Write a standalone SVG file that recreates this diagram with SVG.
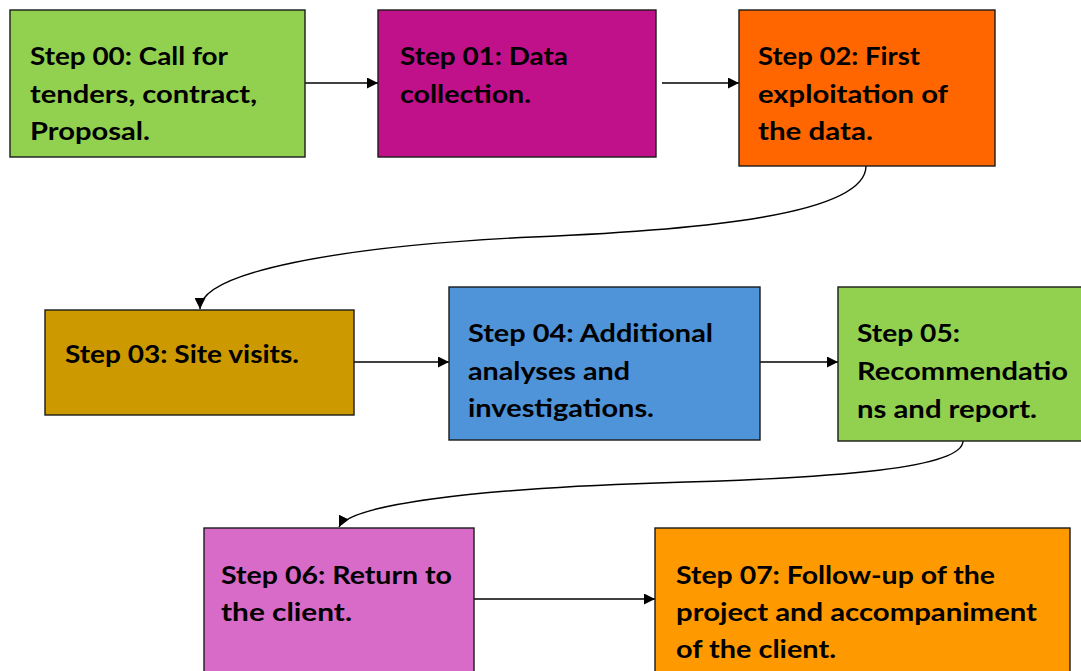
<svg xmlns="http://www.w3.org/2000/svg" width="1081" height="671" viewBox="0 0 1081 671">
<style>
.box{stroke:#1a1a1a;stroke-width:1.4}
.t{font-family:Lato,"Liberation Sans",sans-serif;font-weight:bold;font-size:25px;fill:#000}
.c{fill:none;stroke:#000;stroke-width:1.4}
</style>
<defs>
<marker id="ah" viewBox="0 0 10 10" refX="10" refY="5" markerWidth="11" markerHeight="11" markerUnits="userSpaceOnUse" orient="auto">
<path d="M0,0 L10,5 L0,10 z" fill="#000"/>
</marker>
</defs>
<rect width="1081" height="671" fill="#fff"/>
<g id="connectors">
<path class="c" d="M305,83 L378,83" marker-end="url(#ah)"/>
<path class="c" d="M662,83 L739,83" marker-end="url(#ah)"/>
<path class="c" d="M866,166 C866,215 700,230 533,237 C340,246 200,272 200,309" marker-end="url(#ah)"/>
<path class="c" d="M354,362 L449,362" marker-end="url(#ah)"/>
<path class="c" d="M760,362 L838,362" marker-end="url(#ah)"/>
<path class="c" d="M963,441 C963,468 840,478 657,483 C470,489 350,505 339,527" marker-end="url(#ah)"/>
<path class="c" d="M474,599 L655,599" marker-end="url(#ah)"/>
</g>
<g id="step00">
<rect class="box" x="10" y="10" width="295" height="147" fill="#92D050"/>
<text class="t"><tspan x="30" y="65" textLength="198" lengthAdjust="spacingAndGlyphs">Step 00: Call for</tspan><tspan x="30" y="103" textLength="227" lengthAdjust="spacingAndGlyphs">tenders, contract,</tspan><tspan x="30" y="140" textLength="120" lengthAdjust="spacingAndGlyphs">Proposal.</tspan></text>
</g>
<g id="step01">
<rect class="box" x="378" y="10" width="278" height="147" fill="#C0118B"/>
<text class="t"><tspan x="400" y="65" textLength="168" lengthAdjust="spacingAndGlyphs">Step 01: Data</tspan><tspan x="400" y="103" textLength="131" lengthAdjust="spacingAndGlyphs">collection.</tspan></text>
</g>
<g id="step02">
<rect class="box" x="739" y="10" width="256" height="156" fill="#FF6600"/>
<text class="t"><tspan x="758" y="65" textLength="162" lengthAdjust="spacingAndGlyphs">Step 02: First</tspan><tspan x="758" y="103" textLength="190" lengthAdjust="spacingAndGlyphs">exploitation of</tspan><tspan x="758" y="140" textLength="115" lengthAdjust="spacingAndGlyphs">the data.</tspan></text>
</g>
<g id="step03">
<rect class="box" x="45" y="310" width="309" height="105" fill="#CC9900"/>
<text class="t"><tspan x="65" y="363" textLength="234" lengthAdjust="spacingAndGlyphs">Step 03: Site visits.</tspan></text>
</g>
<g id="step04">
<rect class="box" x="449" y="287" width="311" height="153" fill="#4F93D8"/>
<text class="t"><tspan x="468" y="342" textLength="245" lengthAdjust="spacingAndGlyphs">Step 04: Additional</tspan><tspan x="468" y="380" textLength="162" lengthAdjust="spacingAndGlyphs">analyses and</tspan><tspan x="468" y="417" textLength="186" lengthAdjust="spacingAndGlyphs">investigations.</tspan></text>
</g>
<g id="step05">
<rect class="box" x="838" y="287" width="250" height="154" fill="#92D050"/>
<text class="t"><tspan x="857" y="342" textLength="103" lengthAdjust="spacingAndGlyphs">Step 05:</tspan><tspan x="857" y="380" textLength="211" lengthAdjust="spacingAndGlyphs">Recommendatio</tspan><tspan x="857" y="418" textLength="180" lengthAdjust="spacingAndGlyphs">ns and report.</tspan></text>
</g>
<g id="step06">
<rect class="box" x="204" y="528" width="270" height="150" fill="#D86BC8"/>
<text class="t"><tspan x="221" y="584" textLength="231" lengthAdjust="spacingAndGlyphs">Step 06: Return to</tspan><tspan x="221" y="621" textLength="131" lengthAdjust="spacingAndGlyphs">the client.</tspan></text>
</g>
<g id="step07">
<rect class="box" x="655" y="528" width="415" height="150" fill="#FF9900"/>
<text class="t"><tspan x="676" y="584" textLength="319" lengthAdjust="spacingAndGlyphs">Step 07: Follow-up of the</tspan><tspan x="676" y="621" textLength="361" lengthAdjust="spacingAndGlyphs">project and accompaniment</tspan><tspan x="676" y="658" textLength="160" lengthAdjust="spacingAndGlyphs">of the client.</tspan></text>
</g>
</svg>
